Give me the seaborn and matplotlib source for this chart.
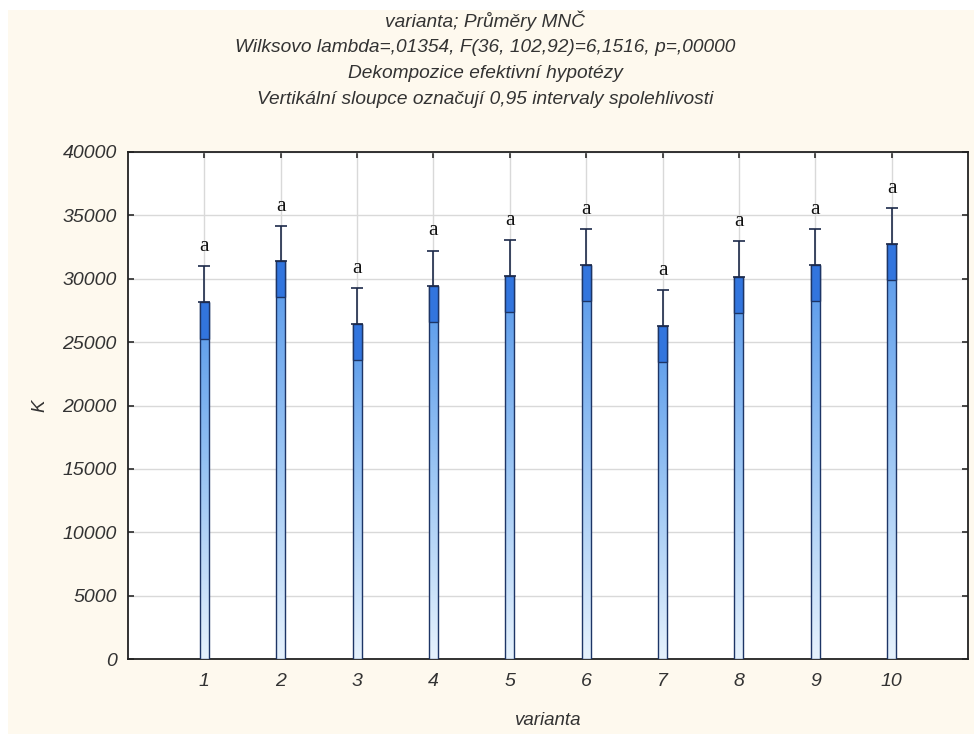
import numpy as np
import pandas as pd
import matplotlib
matplotlib.use("Agg")
import matplotlib.pyplot as plt
import seaborn as sns
from matplotlib.patches import Rectangle
from matplotlib.colors import LinearSegmentedColormap

# ---- data ----
categories = ["1", "2", "3", "4", "5", "6", "7", "8", "9", "10"]
means = [28130, 31370, 26450, 29390, 30240, 31100, 26290, 30160, 31100, 32740]
ci_half = [2845, 2820, 2845, 2830, 2845, 2845, 2845, 2845, 2845, 2840]
letters = ["a"] * 10
yticks = [0, 5000, 10000, 15000, 20000, 25000, 30000, 35000, 40000]
title_lines = [
    "varianta; Průměry MNČ",
    "Wilksovo lambda=,01354, F(36, 102,92)=6,1516, p=,00000",
    "Dekompozice efektivní hypotézy",
    "Vertikální sloupce označují 0,95 intervaly spolehlivosti",
]
xlabel = "varianta"
ylabel = "K"

df = pd.DataFrame({"varianta": categories, "K": means})

sns.set_theme(style="white")
plt.rcParams["font.family"] = ["Liberation Sans", "DejaVu Sans"]

fig = plt.figure(figsize=(9.74, 7.37), dpi=100)
fig.patch.set_facecolor("white")
fig.patches.append(Rectangle((8 / 974, 3 / 737), 966 / 974, 724 / 737,
                             transform=fig.transFigure, facecolor="#fef9ee",
                             edgecolor="none", zorder=-10))

ax = fig.add_axes([128 / 974, 78 / 737, 840 / 974, 507 / 737])
ax.set_facecolor("white")

sns.barplot(data=df, x="varianta", y="K", order=categories, width=0.12,
            color="#5b9be8", edgecolor="#1d3566", linewidth=1.0,
            errorbar=None, ax=ax, zorder=3)

cmap = LinearSegmentedColormap.from_list("g", ["#e6f2fd", "#9cc6f4", "#5597ea"])
grad = np.linspace(0, 1, 256).reshape(-1, 1)
for p in ax.patches:
    x0, y0 = p.get_x(), p.get_y()
    w, h = p.get_width(), p.get_height()
    im = ax.imshow(grad, cmap=cmap, origin="lower", aspect="auto",
                   extent=(x0, x0 + w, y0, y0 + h), zorder=3.5)
    im.set_clip_path(p)
    p.set_facecolor("none")
    p.set_zorder(4)

xs = np.arange(len(categories))
lower = np.array(means) - np.array(ci_half)
ax.bar(xs, ci_half, bottom=lower, width=0.12, color="#3275de",
       edgecolor="#1d3566", linewidth=1.0, zorder=5)
ax.errorbar(xs, means, yerr=[np.zeros(len(xs)), ci_half], fmt="none",
            ecolor="#1d2a4a", elinewidth=1.2, capsize=4, capthick=1.2, zorder=6)

for x, m, c, t in zip(xs, means, ci_half, letters):
    ax.text(x, m + c + 800, t, ha="center", va="bottom",
            fontsize=15.5, family=["Liberation Serif", "DejaVu Serif"],
            color="#111111", zorder=7)

ax.set_xlim(-1, 10)
ax.set_ylim(0, 40000)
ax.set_yticks(yticks)
ax.set_yticklabels([str(v) for v in yticks])
ax.grid(True, color="#d9d9d9", linewidth=1.0, zorder=0)
ax.set_axisbelow(True)
for s in ax.spines.values():
    s.set_visible(True)
    s.set_color("#222222")
    s.set_linewidth(1.3)

ax.tick_params(axis="both", which="both", direction="in", length=4,
               color="#333333", top=True, right=True, bottom=True, left=True,
               labelsize=14, labelcolor="#333333")
ax.tick_params(axis="x", pad=10)
ax.tick_params(axis="y", pad=8)
for lab in ax.get_xticklabels() + ax.get_yticklabels():
    lab.set_style("italic")

ax.set_xlabel(xlabel, fontsize=13.5, style="italic", color="#333333", labelpad=16)
ax.set_ylabel(ylabel, fontsize=13.5, style="italic", color="#333333", labelpad=10)

for i, line in enumerate(title_lines):
    fig.text(485 / 974, 1 - (21 + 26.3 * i) / 737, line, ha="center", va="center",
             fontsize=13.8, style="italic", color="#333333")

fig.savefig("out.png", dpi=100, facecolor=fig.get_facecolor())
